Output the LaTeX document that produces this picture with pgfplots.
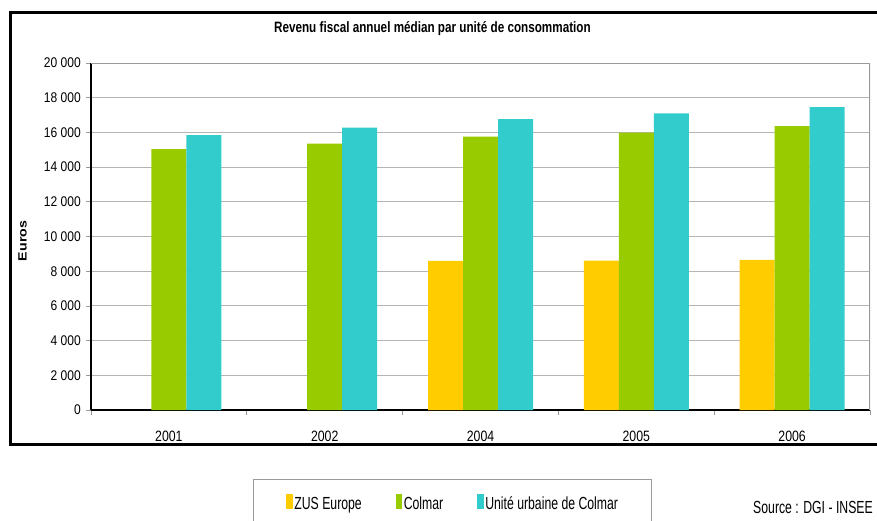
\documentclass[border=0pt]{standalone}
\usepackage{fontspec}
\setmainfont{Liberation Sans}
\usepackage{pgfplots}
\pgfplotsset{compat=1.18}

\definecolor{zus}{HTML}{FFCC00}
\definecolor{colmar}{HTML}{99CC00}
\definecolor{uu}{HTML}{33CCCC}
\definecolor{gridgray}{HTML}{B4B4B4}
\definecolor{framegray}{HTML}{9A9A9A}

% tick labels and legend text, set narrow like the original chart font
\newcommand\ticktxt[1]{\scalebox{0.86}[1]{\fontsize{14}{16}\selectfont #1}}
\newcommand\yeartxt[1]{\scalebox{0.82}[1]{\fontsize{15}{17}\selectfont #1}}
\newcommand\legtxt[1]{\scalebox{0.7}[1]{\fontsize{17.5}{20}\selectfont #1}}

\begin{document}
\begin{tikzpicture}[x=1pt,y=1pt]
\useasboundingbox (0,0) rectangle (877,520);
% outer chart frame
\draw[line width=2.5pt] (890,507.3) -- (10.5,507.3) -- (10.5,75.3) -- (890,75.3);

\begin{axis}[
  at={(91pt,110pt)}, anchor=south west,
  scale only axis, width=779pt, height=347pt,
  ybar=0pt, bar width=35pt,
  xmin=-0.5, xmax=4.5, ymin=0, ymax=20000,
  scaled y ticks=false,
  axis x line*=bottom, axis y line*=left,
  axis line style={black, line width=1.3pt},
  tick align=outside,
  major tick length=5pt, minor tick length=5pt,
  xtick={0,...,4},
  xticklabels={\yeartxt{2001},\yeartxt{2002},\yeartxt{2004},\yeartxt{2005},\yeartxt{2006}},
  major x tick style={draw=none},
  minor xtick={-0.5,0.5,...,4.5},
  minor x tick style={framegray, line width=0.8pt},
  ytick={0,2000,...,20000},
  yticklabels={\ticktxt{0},\ticktxt{2 000},\ticktxt{4 000},\ticktxt{6 000},\ticktxt{8 000},\ticktxt{10 000},
               \ticktxt{12 000},\ticktxt{14 000},\ticktxt{16 000},\ticktxt{18 000},\ticktxt{20 000}},
  major y tick style={framegray, line width=0.8pt},
  ymajorgrids, grid style={gridgray, line width=0.9pt},
  xticklabel style={anchor=base, inner sep=0pt, yshift=-26pt},
  yticklabel style={anchor=east, inner sep=0pt, xshift=-5pt},
  title={\scalebox{0.78}[1]{\fontsize{15}{17}\selectfont\bfseries Revenu fiscal annuel médian par unité de consommation}},
  title style={at={(axis description cs:0.4383,1.0700)}, anchor=base, inner sep=0pt, yshift=0pt},
  ylabel={\scalebox{1.18}[1]{\fontsize{12}{14}\selectfont\bfseries Euros}},
  every axis y label/.style={at={(axis description cs:-0.0825,0.487)}, rotate=90, anchor=base, inner sep=0pt},
  legend columns=3,
  legend image code/.code={\fill[#1] (0pt,-5.5pt) rectangle (6.5pt,9.5pt);},
  legend style={at={(axis description cs:0.20796,-0.19885)}, anchor=north west,
    draw=framegray, line width=0.8pt, inner xsep=33pt, inner ysep=15pt,
    nodes={inner sep=0pt},
    /tikz/every odd column/.style={column sep=1.5pt},
    /tikz/every even column/.style={column sep=34pt}},
]
\addplot[fill=zus, draw=none] coordinates {(2,8590) (3,8610) (4,8650)};
\addplot[fill=colmar, draw=none] coordinates {(0,15030) (1,15350) (2,15760) (3,15990) (4,16360)};
\addplot[fill=uu, draw=none] coordinates {(0,15840) (1,16270) (2,16770) (3,17090) (4,17450)};
\legend{\legtxt{ZUS Europe},\legtxt{Colmar},\legtxt{Unité urbaine de Colmar}}
% plot area border on top and right
\draw[framegray, line width=1.3pt] (rel axis cs:0,1) -- (rel axis cs:1,1) -- (rel axis cs:1,0);
\end{axis}

\node[anchor=base west, inner sep=0pt] at (753,6.7) {\legtxt{Source : DGI - INSEE}};
\end{tikzpicture}
\end{document}
